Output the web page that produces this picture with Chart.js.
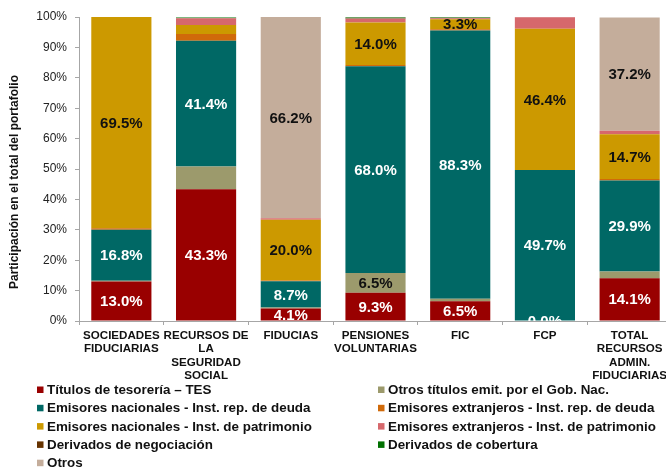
<!DOCTYPE html>
<html>
<head>
<meta charset="utf-8">
<script src="https://cdn.jsdelivr.net/npm/chart.js@4.4.1/dist/chart.umd.min.js"></script>
<style>
  html, body { margin: 0; padding: 0; background: #fff; overflow: hidden; }
  #wrap { position: relative; width: 672px; height: 470px; }
</style>
</head>
<body>
<div id="wrap"><canvas id="c" width="672" height="470"></canvas></div>
<script>
// ---- data ----
const categories = [
  ['SOCIEDADES', 'FIDUCIARIAS'],
  ['RECURSOS DE', 'LA', 'SEGURIDAD', 'SOCIAL'],
  ['FIDUCIAS'],
  ['PENSIONES', 'VOLUNTARIAS'],
  ['FIC'],
  ['FCP'],
  ['TOTAL', 'RECURSOS', 'ADMIN.', 'FIDUCIARIAS']
];
const seriesNames = [
  'Títulos de tesorería – TES',
  'Otros títulos emit. por el Gob. Nac.',
  'Emisores nacionales - Inst. rep. de deuda',
  'Emisores extranjeros - Inst. rep. de deuda',
  'Emisores nacionales - Inst. de patrimonio',
  'Emisores extranjeros - Inst. de patrimonio',
  'Derivados de negociación',
  'Derivados de cobertura',
  'Otros'
];
const tes            = [13.0, 43.3, 4.1, 9.3, 6.5, 0.0, 14.1];
const otrosGob       = [0.2, 7.5, 0.3, 6.5, 0.8, 0.0, 2.2];
const nacDeuda       = [16.8, 41.4, 8.7, 68.0, 88.3, 49.7, 29.9];
const extDeuda       = [0.5, 2.2, 0.2, 0.4, 0.4, 0.0, 0.5];
const nacPatrimonio  = [69.5, 3.0, 20.0, 14.0, 3.3, 46.4, 14.7];
const extPatrimonio  = [0.0, 2.2, 0.5, 1.3, 0.3, 3.8, 1.2];
const derivNeg       = [0.0, 0.0, 0.0, 0.0, 0.0, 0.0, 0.0];
const derivCob       = [0.0, 0.2, 0.0, 0.3, 0.2, 0.0, 0.0];
const otros          = [0.0, 0.0, 66.2, 0.2, 0.2, 0.1, 37.2];
const yTicks = [0, 10, 20, 30, 40, 50, 60, 70, 80, 90, 100];

// which segments carry a value label
const labelTes   = [true, true, true, true, true, true, true];
const labelGob   = [false, false, false, true, false, false, false];
const labelNacD  = [true, true, true, true, true, true, true];
const labelNacP  = [true, false, true, true, true, true, true];
const labelOtros = [false, false, true, false, false, false, true];
const noLabel    = [false, false, false, false, false, false, false];

const seriesValues = [tes, otrosGob, nacDeuda, extDeuda, nacPatrimonio, extPatrimonio, derivNeg, derivCob, otros];
const seriesLabelMask = [labelTes, labelGob, labelNacD, noLabel, labelNacP, noLabel, noLabel, noLabel, labelOtros];
const colors = ['#990000', '#9C9A6C', '#006865', '#D06A0A', '#CC9900', '#D6686C', '#663300', '#007000', '#C4AD9B'];
const labelColors = ['#ffffff', '#111111', '#ffffff', '#111111', '#111111', '#111111', '#ffffff', '#ffffff', '#111111'];

const FONT = 'Arial, "Liberation Sans", sans-serif';

const datasets = seriesNames.map((name, i) => ({
  label: name,
  data: seriesValues[i],
  backgroundColor: colors[i],
  borderWidth: 0,
  barPercentage: 0.71,
  categoryPercentage: 1.0,
  showMask: seriesLabelMask[i],
  labelColor: labelColors[i]
}));

const valueLabels = {
  id: 'valueLabels',
  afterDatasetsDraw(chart) {
    const ctx = chart.ctx;
    const a = chart.chartArea;
    ctx.save();
    ctx.beginPath();
    ctx.rect(a.left, a.top, a.right - a.left, a.bottom - a.top);
    ctx.clip();
    ctx.font = 'bold 15px ' + FONT;
    ctx.textAlign = 'center';
    ctx.textBaseline = 'middle';
    chart.data.datasets.forEach((ds, di) => {
      const meta = chart.getDatasetMeta(di);
      meta.data.forEach((el, i) => {
        if (!ds.showMask[i]) return;
        const p = el.getProps(['x', 'y', 'base'], true);
        const cy = (p.y + p.base) / 2;
        ctx.fillStyle = ds.labelColor;
        ctx.fillText(ds.data[i].toFixed(1) + '%', p.x, cy + 1);
      });
    });
    ctx.restore();
  }
};

const customDecor = {
  id: 'customDecor',
  afterDraw(chart) {
    const ctx = chart.ctx;
    // y-axis title
    ctx.save();
    ctx.translate(15, 182);
    ctx.rotate(-Math.PI / 2);
    ctx.font = 'bold 12px ' + FONT;
    ctx.fillStyle = '#111';
    ctx.textAlign = 'center';
    ctx.textBaseline = 'middle';
    ctx.fillText('Participación en el total del portafolio', 0, 0);
    ctx.restore();
    // legend, two columns
    ctx.save();
    ctx.font = 'bold 13.4px ' + FONT;
    ctx.textBaseline = 'middle';
    ctx.textAlign = 'left';
    chart.data.datasets.forEach((ds, i) => {
      const col = i % 2;
      const row = Math.floor(i / 2);
      const y = 390 + row * 18.3;
      const bx = col ? 378 : 37;
      const tx = col ? 388 : 47;
      ctx.fillStyle = ds.backgroundColor;
      ctx.fillRect(bx, y - 3.5, 6.5, 6.5);
      ctx.fillStyle = '#111';
      ctx.fillText(ds.label, tx, y + 0.5);
    });
    ctx.restore();
  }
};

new Chart(document.getElementById('c'), {
  type: 'bar',
  data: { labels: categories, datasets },
  options: {
    responsive: false,
    animation: false,
    layout: { padding: { top: 17, bottom: 89, left: 0, right: 0 } },
    plugins: { legend: { display: false }, tooltip: { enabled: false } },
    scales: {
      x: {
        stacked: true,
        offset: true,
        grid: { display: true, drawOnChartArea: false, drawTicks: true, tickLength: 4, color: '#A6A6A6', offset: true },
        border: { display: true, color: '#A6A6A6', width: 1 },
        ticks: {
          color: '#111',
          padding: 4,
          maxRotation: 0,
          autoSkip: false,
          font: { family: FONT, size: 11.6, weight: 'bold', lineHeight: 1.15 }
        },
        afterFit(scale) { scale.height = 60; }
      },
      y: {
        stacked: true,
        min: 0,
        max: 100,
        afterBuildTicks(scale) { scale.ticks = yTicks.map(v => ({ value: v })); },
        grid: { display: true, drawOnChartArea: false, drawTicks: true, tickLength: 4, color: '#A6A6A6' },
        border: { display: true, color: '#A6A6A6', width: 1 },
        ticks: {
          color: '#222',
          padding: 8,
          font: { family: FONT, size: 12 },
          callback: v => v + '%'
        },
        afterFit(scale) { scale.width = 79; }
      }
    }
  },
  plugins: [valueLabels, customDecor]
});
</script>
</body>
</html>
